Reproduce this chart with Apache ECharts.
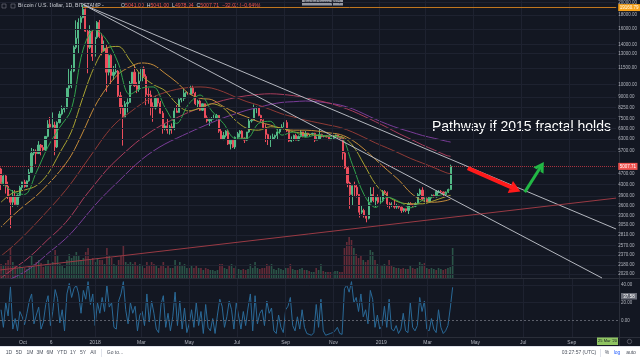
<!DOCTYPE html>
<html><head><meta charset="utf-8">
<script src="https://cdn.jsdelivr.net/npm/echarts@6/dist/echarts.min.js"></script>
<style>html,body{margin:0;padding:0;background:#131722;}#c{width:640px;height:360px;}</style>
</head><body><div id="c"></div>
<script>
const DAY = 86400000;
const ts = s => Date.parse(s + 'T00:00:00Z');

// ---- DATA ----
const candleStart = '2017-09-03';   // centre date of first 3-day candle
const candleStepDays = 3;
// [open, high, low, close] per 3-day candle
const ohlc = [
[4900,4950,4100,4330],[4330,4700,4250,4620],[4620,4680,3980,4230],[4230,4400,3800,3870],[3870,3900,2970,3700],
[3700,4100,3550,3900],[3900,4100,3600,3630],[3630,3950,3570,3920],[3920,4250,3850,4190],[4190,4400,4100,4390],
[4390,4470,4180,4220],[4220,4450,4200,4430],[4430,4900,4400,4760],[4760,5850,4750,5600],[5600,5800,5500,5700],
[5700,5780,5100,5580],[5580,6200,5580,6000],[6000,6050,5500,5880],[5880,6000,5700,5750],[5750,6450,5700,6450],
[6450,7400,6400,7150],[7150,7600,6950,6980],[6980,7900,6960,7100],[7100,7300,5500,5900],[5900,7330,5850,7250],
[7250,7990,7200,7790],[7790,8370,7700,8100],[8100,8300,7900,8200],[8200,9700,8150,9700],[9700,11400,9000,9900],
[9900,11800,9700,11200],[11200,13900,11100,13700],[13700,17200,13500,14800],[14800,17500,13000,16900],[16900,17900,15900,17600],
[17600,19666,17500,18900],[18900,19000,15600,15700],[15700,15900,11000,13700],[13700,16500,13500,15700],[15700,15900,12200,12700],
[12700,15200,12400,14900],[14900,17100,14700,16900],[16900,17250,14800,15000],[15000,15400,12800,13300],[13300,14500,13200,13600],
[13600,14000,9400,11100],[11100,12900,10800,12800],[12800,12900,10000,10800],[10800,11700,10400,11100],[11100,11900,10900,11200],
[11200,11300,9000,9100],[9100,9400,7800,8200],[8200,8400,5968,7600],[7600,8700,7600,8500],[8500,8900,7900,8600],
[8600,10300,8600,10100],[10100,11100,9900,11100],[11100,11800,9800,9900],[9900,10200,9300,9600],[9600,11100,9400,10300],
[10300,11500,10200,11500],[11500,11650,10600,10700],[10700,10900,8400,9200],[9200,9700,8500,9150],[9150,9500,7700,8300],
[8300,8600,7300,8200],[8200,9100,8100,8900],[8900,9000,8300,8550],[8550,8700,7800,7850],[7850,8000,6600,6900],
[6900,7200,6800,7050],[7050,7500,6600,6800],[6800,7100,6550,7000],[7000,7200,6600,6900],[6900,8200,6800,8000],
[8000,8400,7900,7900],[7900,8900,7900,8800],[8800,9000,8600,8900],[8900,9700,8700,9300],[9300,9400,8900,9350],
[9350,9500,8900,9200],[9200,9900,9200,9700],[9700,9900,9200,9300],[9300,9400,8400,8500],[8500,8800,8200,8700],
[8700,8800,8000,8050],[8050,8500,8000,8500],[8500,8500,7500,7550],[7550,7700,7250,7350],[7350,7550,7050,7450],
[7450,7600,7300,7500],[7500,7750,7450,7500],[7500,7800,7450,7700],[7700,7700,6650,6750],[6750,6900,6300,6300],
[6300,6700,6250,6500],[6500,6800,6400,6750],[6750,6800,6000,6050],[6050,6250,5780,6250],[6250,6300,5850,5900],
[5900,6450,5800,6400],[6400,6700,6300,6600],[6600,6800,6400,6750],[6750,6800,6300,6350],[6350,6400,6100,6250],
[6250,6700,6200,6700],[6700,7600,6650,7350],[7350,7500,7250,7400],[7400,8450,7400,8200],[8200,8300,7850,8200],
[8200,8250,7650,7700],[7700,7750,7300,7400],[7400,7450,6900,6950],[6950,7150,6150,6550],[6550,6600,6000,6300],
[6300,6500,5900,6300],[6300,6600,6250,6400],[6400,6550,6300,6500],[6500,6900,6300,6700],[6700,6900,6600,6900],
[6900,7150,6850,6980],[6980,7300,6950,7250],[7250,7400,6700,6750],[6750,6800,6150,6200],[6200,6450,6150,6300],
[6300,6550,6200,6500],[6500,6600,6250,6250],[6250,6500,6200,6450],[6450,6800,6400,6700],[6700,6700,6400,6450],
[6450,6750,6400,6630],[6630,6650,6450,6550],[6550,6600,6450,6580],[6580,6650,6550,6620],[6620,6650,6150,6250],
[6250,6450,6250,6300],[6300,6900,6300,6550],[6550,6600,6400,6450],[6450,6500,6400,6450],[6450,6500,6400,6420],
[6420,6450,6250,6280],[6280,6350,6250,6350],[6350,6500,6330,6480],[6480,6550,6350,6530],[6530,6550,6350,6400],
[6400,6450,6300,6350],[6350,6400,5300,5600],[5600,5650,4900,4950],[4950,4980,4200,4350],[4350,4400,3500,3950],
[3950,4200,3600,4250],[4250,4400,3900,4200],[4200,4300,3850,3950],[3950,3960,3250,3400],[3400,3600,3350,3450],
[3450,3500,3250,3300],[3300,3300,3122,3230],[3230,3900,3200,3700],[3700,4200,3700,3950],[3950,4200,3700,3750],
[3750,3900,3550,3850],[3850,3950,3650,3700],[3700,3900,3650,3750],[3750,4100,3700,4050],[4050,4100,3950,4000],
[4000,4050,3550,3650],[3650,3700,3500,3600],[3600,3700,3550,3600],[3600,3800,3500,3550],[3550,3650,3500,3580],
[3580,3620,3500,3550],[3550,3560,3380,3450],[3450,3520,3400,3500],[3500,3500,3400,3450],[3450,3700,3350,3650],
[3650,3700,3600,3620],[3620,3650,3550,3580],[3580,3700,3550,3650],[3650,4000,3650,3950],[3950,4150,3900,4100],
[4100,4200,3750,3800],[3800,3850,3700,3820],[3820,3850,3700,3720],[3720,3900,3700,3880],[3880,3950,3820,3920],
[3920,3950,3850,3870],[3870,4100,3850,4050],[4050,4100,3990,4050],[4050,4100,3990,4030],[4030,4050,3900,3950],
[3950,4050,3920,4030],[4030,4150,4000,4120],[4120,5080,4100,5007.71]
];
const volume = [
14,12,15,18,30,16,12,10,12,11,
10,9,13,22,14,16,18,15,11,14,
18,14,16,28,22,14,12,10,18,24,
20,22,26,22,18,20,26,30,18,20,16,
20,18,18,14,30,22,20,14,12,18,
22,32,16,14,16,14,16,12,14,
12,10,16,12,16,14,12,10,12,16,10,
12,10,10,18,12,16,12,14,10,10,
12,10,12,10,10,8,10,9,8,8,
7,8,14,14,10,9,12,14,10,12,
9,8,9,8,9,14,10,16,10,9,
10,10,14,12,14,9,8,10,9,8,10,
10,14,9,8,8,9,10,8,8,7,
6,6,10,8,14,7,6,6,6,6,
7,7,6,6,30,36,41,38,30,24,
20,22,18,16,18,28,26,18,14,13,
12,14,12,18,12,11,10,10,9,10,9,
9,13,10,9,10,16,14,15,10,
9,10,9,8,10,9,8,9,10,11,30
];
const oscillator = [
12,-8,20,5,38,-10,2,-12,10,4,
-5,8,22,30,-4,6,15,-10,-2,18,
28,-6,10,35,25,-3,12,-12,30,42,
26,36,40,30,8,34,24,44,18,30,-6,
20,8,26,10,40,15,20,-8,-10,22,
30,44,12,-4,20,8,16,-12,6,
10,-6,30,-2,22,8,-10,-14,18,28,-8,
8,-12,4,32,-6,22,-10,14,-14,-4,
12,-8,20,-6,10,-15,18,-8,-12,2,
-15,6,24,16,-8,4,22,12,-10,20,
5,-10,10,-6,14,30,-12,28,-4,8,
12,-6,22,8,14,-12,-15,6,-8,-14,12,
16,26,-6,-12,4,-10,12,-8,-15,-16,
-17,-14,18,-8,24,-12,-17,-16,-15,-14,
-12,-8,-15,-16,36,40,32,44,20,26,
10,30,4,12,-4,34,24,-8,6,-10,
-6,16,-8,24,-10,-12,-6,-15,-10,8,-12,
-14,20,-8,-12,-6,26,10,22,-10,
-12,2,-10,-14,12,-8,-15,-12,-6,14,37.58
];
const maDates = ['2017-09-03','2017-09-18','2017-10-03','2017-10-18','2017-11-02','2017-11-17','2017-12-02','2017-12-17',
'2018-01-01','2018-01-16','2018-01-31','2018-02-15','2018-03-02','2018-03-17','2018-04-01','2018-04-16','2018-05-01',
'2018-05-16','2018-05-31','2018-06-15','2018-06-30','2018-07-15','2018-07-30','2018-08-14','2018-08-29','2018-09-13',
'2018-09-28','2018-10-13','2018-10-28','2018-11-12','2018-11-27','2018-12-12','2018-12-27','2019-01-11','2019-01-26',
'2019-02-10','2019-02-25','2019-03-12','2019-03-27','2019-04-02'];
const ma20 = [4400,4050,3950,4750,5900,6950,8100,13400,15900,14600,12000,9200,9700,9800,8250,7200,8450,9150,8000,7200,6350,6350,7200,7330,6520,6700,6400,6540,6450,6400,5100,3950,3540,3860,3720,3530,3760,3880,3990,4150];
const ma50 = [3700,4000,4100,4250,4700,5600,6700,9000,11700,13600,13800,12300,10800,10000,9500,8500,8000,8200,8500,8200,7400,6900,6800,7000,6900,6700,6600,6500,6480,6450,6000,5100,4300,3900,3700,3650,3650,3750,3880,3920];
const ma100 = [3000,3300,3600,3900,4300,4800,5500,6700,8300,9700,10900,11600,12000,11800,11000,10200,9300,8900,8800,8300,7900,7600,7300,7100,6900,6800,6800,6750,6650,6550,6250,5800,5300,4850,4450,4000,3750,3700,3750,3800];
const ma200 = [2350,2550,2800,3100,3450,3850,4350,5000,5750,6600,7350,7900,8500,9000,9350,9600,9750,9800,9700,9400,9000,8650,8400,8100,7800,7600,7400,7250,7100,6950,6700,6400,6100,5850,5600,5350,5150,4950,4750,4700];
const ma300 = [1950,2100,2250,2450,2700,2950,3300,3800,4300,4850,5350,5850,6350,6800,7200,7550,7900,8200,8500,8750,8950,9100,9200,9250,9200,9100,8950,8750,8550,8300,8000,7650,7300,6950,6600,6300,6000,5750,5500,5450];
const ma365 = [1850,1950,2050,2200,2400,2600,2850,3200,3600,4000,4400,4850,5300,5700,6050,6350,6650,6950,7250,7550,7800,8050,8250,8450,8600,8650,8700,8650,8550,8400,8150,7800,7450,7150,6900,6700,6500,6350,6200,6150];
const yTickValues = [20000,18000,16000,14000,13000,11500,10000,9000,8250,7500,6900,6300,5700,4700,4300,3900,3600,3300,3050,2810,2570,2370,2180,2020];
const oscTicks = [40,20,0];
const xTickDates = ['2017-10-01','2017-11-06','2018-01-01','2018-03-01','2018-05-01','2018-07-01','2018-09-01','2018-11-01','2019-01-01','2019-03-01','2019-05-01','2019-07-01','2019-09-01'];
const xTickLabels = ['Oct','6','2018','Mar','May','Jul','Sep','Nov','2019','Mar','May','Jul','Sep'];
const lastPrice = 5007.71;
const athLevel = 19160.79;
const athStart = '2017-12-17';
const oscLast = '37.58';
const trendA = [['2017-12-17',19666],['2019-10-31',2950]];
const trendB = [['2017-12-17',19666],['2019-10-13',1950]];
const trendC = [['2017-09-02',2087],['2019-10-31',3830]];
const redArrow = [['2019-04-24',4932],['2019-06-24',4130]];
const greenArrow = [['2019-07-06',4029],['2019-07-27',5015]];
const noteText = 'Pathway if 2015 fractal holds';

// ---- CHART ----
const t0 = ts(candleStart);
const tOf = i => t0 + i * candleStepDays * DAY;
const xMin = ts('2017-10-01') - 29.34 * DAY;
const xMax = ts('2017-10-01') + 760.2 * DAY;
const yMin = 1950, yMax = 20340;
const xTickTs = xTickDates.map(ts);
const FONT = '"Liberation Sans", Arial, sans-serif';
const axisTxt = '#b2b5be';
const UP = '#53b987', DOWN = '#eb4d5c';
const chevron = 'path://M0,10L5,0L10,10L7,10L5,5L3,10Z';

const xAxes = [0,1,2].map(g => ({
  type:'value', gridIndex:g, min:xMin, max:xMax, scale:true,
  axisLine:{show:false}, axisTick:{show:false}, splitLine:{show:false},
  axisLabel: g === 2 ? {
    show:true, customValues:xTickTs, color:axisTxt, fontSize:5, margin:3, fontFamily:FONT,
    formatter: v => { const k = xTickTs.findIndex(t => Math.abs(t - v) < DAY/2); return k >= 0 ? xTickLabels[k] : ''; }
  } : {show:false}
}));

const maDefs = [[ma365,'#7a3d99'],[ma300,'#a83d5c'],[ma200,'#8f3a36'],[ma100,'#c48b3a'],[ma50,'#a8a232'],[ma20,'#31a24c']];
const trendSeries = (pts, color) => ({
  type:'line', xAxisIndex:0, yAxisIndex:0, data:[], silent:true,
  markLine:{silent:true, animation:false, symbol:'none', label:{show:false},
    lineStyle:{color:color, width:1, type:'solid'},
    data:[[{coord:[ts(pts[0][0]), pts[0][1]]},{coord:[ts(pts[1][0]), pts[1][1]]}]]}
});
const arrowSeries = (pts, color, width, size) => ({
  type:'line', xAxisIndex:0, yAxisIndex:0, data:[], silent:true,
  markLine:{silent:true, animation:false, symbol:['none', chevron], symbolSize:size,
    label:{show:false}, lineStyle:{color:color, width:width, type:'solid'},
    data:[[{coord:[ts(pts[0][0]), pts[0][1]]},{coord:[ts(pts[1][0]), pts[1][1]]}]]}
});

const series = [
  { // price pane grid lines
    type:'line', xAxisIndex:0, yAxisIndex:0, data:[], silent:true, z:0,
    markLine:{silent:true, animation:false, symbol:'none', label:{show:false},
      lineStyle:{color:'#1e2230', width:1, type:'solid'},
      data:[...yTickValues.map(v => ({yAxis:v})), ...xTickTs.map(t => ({xAxis:t}))]}
  },
  { // oscillator pane grid lines
    type:'line', xAxisIndex:2, yAxisIndex:3, data:[], silent:true, z:0,
    markLine:{silent:true, animation:false, symbol:'none', label:{show:false},
      lineStyle:{color:'#1e2230', width:1, type:'solid'},
      data:[{yAxis:40},{yAxis:20}, ...xTickTs.map(t => ({xAxis:t})),
        {yAxis:0, lineStyle:{color:'#5d606b', type:[2,2], width:1}}]}
  },
  {
    type:'bar', xAxisIndex:1, yAxisIndex:2, barWidth:1.6, silent:true,
    data: volume.map((v,i) => ({value:[tOf(i), v],
      itemStyle:{color: ohlc[i][3] >= ohlc[i][0] ? 'rgba(83,185,135,0.38)' : 'rgba(235,77,92,0.38)'}}))
  },
  {
    type:'candlestick', xAxisIndex:0, yAxisIndex:0, barWidth:1.7, silent:true,
    encode:{x:0, y:[1,2,3,4]},
    data: ohlc.map((r,i) => [tOf(i), r[0], r[3], r[2], r[1]]),
    itemStyle:{color:UP, color0:DOWN, borderColor:UP, borderColor0:DOWN, borderWidth:1},
    markLine:{silent:true, animation:false, symbol:'none',
      data:[
        {yAxis:lastPrice, lineStyle:{color:'#a8323e', type:[1,1], width:1},
         label:{show:true, position:'end', distance:2, formatter:lastPrice.toFixed(2),
                backgroundColor:'#ef5350', color:'#ffffff', fontSize:4.5, padding:[1,1.5], fontFamily:FONT}},
        [{coord:[ts(athStart), athLevel], lineStyle:{color:'#c0761e', width:1, type:'solid'},
          label:{show:true, position:'end', distance:2, formatter:athLevel.toFixed(2),
                 backgroundColor:'#f7a21b', color:'#ffffff', fontSize:4.5, padding:[1,1.5], fontFamily:FONT}},
         {coord:[xMax, athLevel]}]
      ]}
  },
  ...maDefs.map(([arr, col]) => ({
    type:'line', xAxisIndex:0, yAxisIndex:0, silent:true, symbol:'none', smooth:0.35,
    data: maDates.map((d,i) => [ts(d), arr[i]]), lineStyle:{color:col, width:1}
  })),
  trendSeries(trendA, '#b4b7bf'),
  trendSeries(trendB, '#b4b7bf'),
  trendSeries(trendC, '#9a3a44'),
  arrowSeries(redArrow, '#ff1a1a', 4, [13,11]),
  arrowSeries(greenArrow, '#22b845', 3, [12,10]),
  {
    type:'line', xAxisIndex:2, yAxisIndex:3, silent:true, symbol:'none',
    data: oscillator.map((v,i) => [tOf(i), v]), lineStyle:{color:'#2a6a98', width:1}
  }
];

const tbText = (txt, x, color) => ({type:'text', x:x, y:353, silent:true,
  style:{text:txt, fill:color || '#4c525e', font:'5px ' + FONT, align:'center', verticalAlign:'middle'}});

const graphic = [
  {type:'line', silent:true, shape:{x1:0,y1:278.5,x2:640,y2:278.5}, style:{stroke:'#2a2e39', lineWidth:1}},
  {type:'line', silent:true, shape:{x1:0,y1:337.5,x2:640,y2:337.5}, style:{stroke:'#2a2e39', lineWidth:1}},
  {type:'line', silent:true, shape:{x1:619.5,y1:0,x2:619.5,y2:346}, style:{stroke:'#2a2e39', lineWidth:1}},
  {type:'rect', silent:true, shape:{x:2,y:4,width:4,height:4}, style:{fill:'none', stroke:'#787b86', lineWidth:0.6}},
  {type:'rect', silent:true, shape:{x:11,y:4,width:4,height:4}, style:{fill:'none', stroke:'#787b86', lineWidth:0.6}},
  {type:'text', x:18, y:6, silent:true, style:{text:'Bitcoin / U.S. Dollar, 1D, BITSTAMP -', fill:'#d1d4dc', font:'5.2px ' + FONT, verticalAlign:'middle'}},
  {type:'text', x:121, y:6, silent:true, style:{
    text:'{w|O}{r|5041.00}  {w|H}{r|5041.00}  {w|L}{r|4978.94}  {w|C}{r|5007.71}  {r|\u221232.02 (\u22120.64%)}',
    verticalAlign:'middle', font:'5.2px ' + FONT,
    rich:{w:{fill:'#d1d4dc', fontSize:5.2, fontFamily:FONT}, r:{fill:'#ef5350', fontSize:5.2, fontFamily:FONT}}}},
  {type:'rect', silent:true, shape:{x:302,y:-1,width:41,height:6.5}, style:{fill:'#9598a1'}},
  {type:'text', x:322.5, y:2.3, silent:true, style:{text:'Exit Full Screen (ESC)', fill:'#1e222d', font:'3.6px ' + FONT, align:'center', verticalAlign:'middle'}},
  {type:'text', x:432, y:127, silent:true, style:{text:noteText, fill:'#ffffff', font:'14px ' + FONT, verticalAlign:'middle'}},
  {type:'rect', silent:true, shape:{x:621,y:293,width:16,height:6.5}, style:{fill:'#6a6d78'}},
  {type:'text', x:629, y:296.3, silent:true, style:{text:oscLast, fill:'#ffffff', font:'4.5px ' + FONT, align:'center', verticalAlign:'middle'}},
  {type:'rect', silent:true, shape:{x:597,y:337.5,width:21,height:7.5}, style:{fill:'#8fc462'}},
  {type:'text', x:607.5, y:341.3, silent:true, style:{text:"25 Mar '20", fill:'#131722', font:'4px ' + FONT, align:'center', verticalAlign:'middle'}},
  {type:'circle', silent:true, shape:{cx:629.5,cy:341.5,r:2.2}, style:{fill:'none', stroke:'#787b86', lineWidth:0.6}},
  {type:'rect', silent:true, shape:{x:0,y:346,width:640,height:14}, style:{fill:'#ffffff'}},
  {type:'line', silent:true, shape:{x1:0,y1:346.5,x2:640,y2:346.5}, style:{stroke:'#e0e3eb', lineWidth:1}},
  {type:'line', silent:true, shape:{x1:101.5,y1:349,x2:101.5,y2:357}, style:{stroke:'#e0e3eb', lineWidth:1}},
  {type:'line', silent:true, shape:{x1:600.5,y1:349,x2:600.5,y2:357}, style:{stroke:'#e0e3eb', lineWidth:1}},
  tbText('1D',9), tbText('5D',19), tbText('1M',30), tbText('3M',40), tbText('6M',50), tbText('YTD',62),
  tbText('1Y',73), tbText('5Y',83), tbText('All',93), tbText('Go to...',115),
  tbText('03:27:57 (UTC)',579), tbText('%',607), tbText('log',617,'#2962ff'), tbText('auto',631)
];

const option = {
  animation:false,
  backgroundColor:'#131722',
  textStyle:{fontFamily:FONT},
  grid:[
    {left:0, top:0, width:619, height:278},
    {left:0, top:228, width:619, height:50},
    {left:0, top:279, width:619, height:58}
  ],
  xAxis: xAxes,
  yAxis:[
    {type:'log', logBase:10, gridIndex:0, position:'left', min:yMin, max:yMax,
     axisLine:{show:false}, axisTick:{show:false}, axisLabel:{show:false}, splitLine:{show:false}},
    {type:'value', gridIndex:0, position:'right', min:Math.log10(yMin), max:Math.log10(yMax),
     axisLine:{show:false}, axisTick:{show:false}, splitLine:{show:false},
     axisLabel:{customValues:yTickValues.map(v => Math.log10(v)), color:axisTxt, fontSize:4.5, margin:2, fontFamily:FONT,
       formatter: v => { const k = yTickValues.find(t => Math.abs(Math.log10(t) - v) < 1e-6); return k !== undefined ? k.toFixed(2) : ''; }}},
    {type:'value', gridIndex:1, min:0, max:50, show:false},
    {type:'value', gridIndex:2, position:'right', min:-19, max:47,
     axisLine:{show:false}, axisTick:{show:false}, splitLine:{show:false},
     axisLabel:{customValues:oscTicks, color:axisTxt, fontSize:4.5, margin:2, fontFamily:FONT, formatter: v => v.toFixed(2)}}
  ],
  series: series,
  graphic: graphic
};

const chart = echarts.init(document.getElementById('c'), null, {renderer:'canvas', width:640, height:360});
chart.setOption(option);
</script>
</body></html>
